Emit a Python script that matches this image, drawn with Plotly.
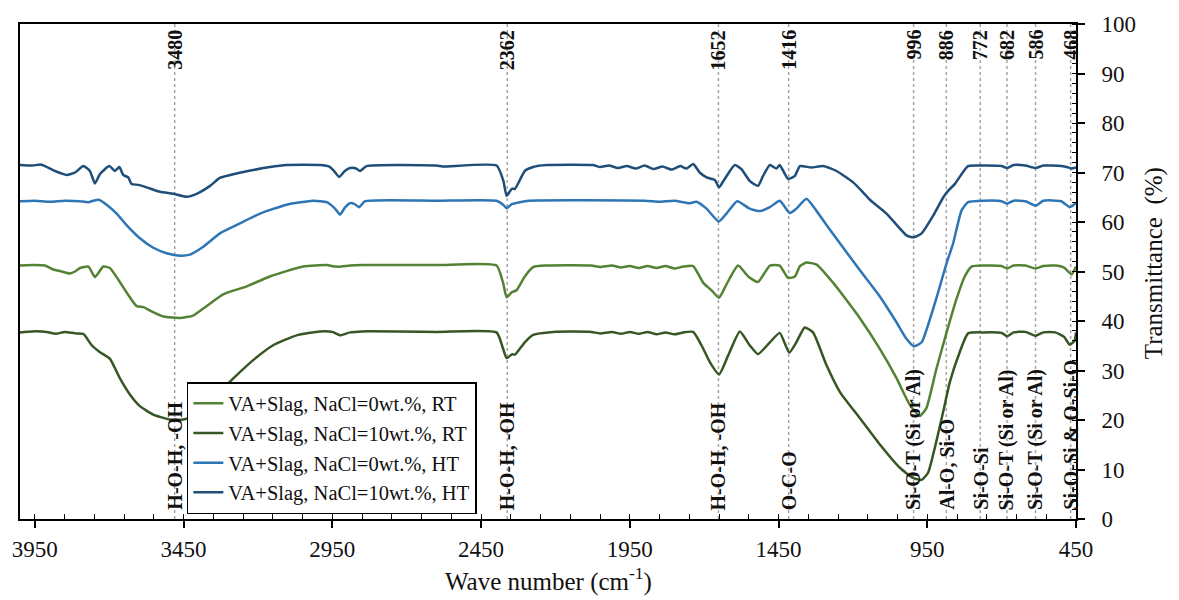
import plotly.graph_objects as go

# FTIR spectra (wave number in cm-1, transmittance in %)
rt_0 = [
    (4000, 51.2), (3950, 51.3), (3916, 51.2), (3888, 50.4), (3860, 50.0), (3832, 49.6),
    (3815, 50.0), (3798, 50.7), (3770, 51.0), (3748, 48.9), (3720, 51.0), (3698, 50.7),
    (3670, 48.4), (3641, 45.7), (3608, 43.0), (3585, 42.8), (3563, 42.1), (3518, 40.9),
    (3462, 40.6), (3418, 41.1), (3373, 43.0), (3317, 45.4), (3238, 47.0), (3160, 49.0),
    (3048, 51.0), (2969, 51.3), (2940, 51.0), (2919, 51.0), (2890, 51.2), (2850, 51.3),
    (2600, 51.3), (2398, 51.2), (2376, 47.7), (2364, 44.8), (2347, 45.8), (2331, 46.2),
    (2303, 49.0), (2275, 50.9), (2230, 51.2), (2080, 51.2), (2050, 50.9), (2010, 51.2),
    (1980, 50.8), (1950, 51.1), (1920, 50.7), (1890, 51.1), (1860, 50.7), (1830, 51.1),
    (1800, 50.6), (1770, 51.0), (1737, 51.1), (1703, 47.7), (1675, 46.2), (1650, 44.7),
    (1625, 47.4), (1586, 51.2), (1552, 49.0), (1519, 47.9), (1479, 51.2), (1446, 51.2),
    (1418, 48.7), (1395, 49.0), (1378, 51.1), (1356, 51.8), (1322, 51.4), (1266, 47.7),
    (1244, 46.0), (1177, 40.6), (1110, 34.4), (1053, 28.4), (1009, 23.1), (975, 20.8),
    (953, 22.4), (919, 30.4), (885, 37.7), (852, 44.4), (824, 49.0), (801, 51.0),
    (760, 51.2), (700, 51.1), (682, 50.6), (660, 51.2), (620, 51.2), (586, 50.6),
    (560, 51.1), (520, 51.2), (490, 50.8), (465, 49.4), (450, 51.0),
]

rt_10 = [
    (4000, 37.7), (3960, 37.9), (3910, 37.8), (3880, 37.4), (3850, 37.8), (3815, 37.5),
    (3787, 37.4), (3759, 35.1), (3731, 33.7), (3698, 32.4), (3664, 28.4), (3630, 25.1),
    (3597, 22.8), (3552, 21.1), (3496, 20.1), (3451, 20.1), (3406, 21.1), (3350, 24.4),
    (3283, 28.4), (3216, 32.1), (3149, 35.1), (3070, 37.1), (2992, 37.9), (2950, 37.8),
    (2924, 37.1), (2891, 37.7), (2850, 37.9), (2600, 37.8), (2398, 37.7), (2376, 34.4),
    (2364, 32.5), (2345, 33.3), (2336, 33.2), (2303, 35.7), (2275, 37.2), (2208, 37.8),
    (2080, 37.8), (2050, 37.5), (2010, 37.8), (1980, 37.4), (1950, 37.8), (1920, 37.4),
    (1890, 37.8), (1860, 37.3), (1830, 37.7), (1800, 37.3), (1770, 37.7), (1737, 37.8),
    (1709, 35.1), (1681, 31.7), (1650, 29.2), (1619, 33.1), (1580, 37.9), (1547, 35.1),
    (1519, 33.3), (1479, 35.7), (1446, 37.6), (1414, 33.6), (1390, 35.7), (1362, 38.7),
    (1334, 37.7), (1289, 31.1), (1244, 25.7), (1177, 20.4), (1110, 15.1), (1043, 10.4),
    (998, 8.3), (969, 7.9), (947, 9.4), (919, 15.8), (896, 21.8), (874, 27.7),
    (841, 33.7), (813, 37.5), (760, 37.7), (700, 37.6), (682, 36.9), (660, 37.7),
    (620, 37.8), (586, 37.0), (560, 37.7), (520, 37.7), (490, 36.8), (471, 35.2),
    (455, 36.0), (450, 37.7),
]

ht_0 = [
    (4000, 64.2), (3950, 64.3), (3900, 64.1), (3850, 64.3), (3800, 64.2), (3770, 64.0),
    (3754, 64.3), (3735, 64.5), (3709, 63.5), (3675, 61.7), (3641, 59.3), (3597, 56.7),
    (3552, 54.8), (3507, 53.7), (3462, 53.2), (3429, 53.4), (3384, 55.0), (3328, 57.7),
    (3261, 59.7), (3193, 61.7), (3104, 63.5), (3014, 64.3), (2969, 64.0), (2941, 62.7),
    (2924, 61.5), (2908, 62.9), (2891, 63.8), (2875, 63.6), (2860, 63.0), (2840, 64.2),
    (2600, 64.3), (2398, 64.3), (2376, 63.5), (2364, 62.8), (2347, 63.6), (2320, 64.0),
    (2290, 64.3), (1900, 64.3), (1850, 64.1), (1800, 64.3), (1748, 63.8), (1726, 64.1),
    (1692, 62.7), (1651, 60.1), (1625, 61.7), (1589, 64.2), (1547, 62.7), (1513, 62.2),
    (1479, 63.0), (1446, 64.3), (1412, 61.8), (1390, 62.7), (1356, 64.7), (1323, 62.3),
    (1290, 59.5), (1250, 56.2), (1177, 50.3), (1110, 45.0), (1053, 39.7), (1020, 36.4),
    (995, 34.9), (969, 35.7), (941, 40.4), (914, 45.7), (885, 51.7), (863, 55.7),
    (835, 62.3), (813, 64.0), (760, 64.3), (700, 64.2), (682, 63.7), (660, 64.3),
    (620, 64.2), (586, 63.3), (560, 64.3), (500, 64.2), (471, 63.0), (455, 63.6),
    (450, 64.0),
]

ht_10 = [
    (4000, 71.5), (3960, 71.4), (3930, 71.6), (3916, 71.3), (3889, 70.5), (3860, 69.8),
    (3843, 69.5), (3815, 70.0), (3787, 71.3), (3765, 70.3), (3748, 67.8), (3731, 69.7),
    (3700, 71.3), (3681, 70.3), (3666, 71.1), (3653, 69.5), (3636, 69.0), (3625, 67.7),
    (3602, 67.5), (3574, 67.0), (3529, 66.1), (3485, 65.7), (3440, 65.1), (3406, 65.7),
    (3361, 67.3), (3328, 68.9), (3272, 69.8), (3216, 70.5), (3160, 71.1), (3104, 71.5),
    (2992, 71.5), (2960, 71.2), (2947, 70.5), (2927, 69.1), (2908, 70.3), (2890, 70.9),
    (2870, 70.8), (2857, 70.3), (2835, 71.3), (2600, 71.4), (2580, 71.2), (2398, 71.4),
    (2375, 68.3), (2364, 65.3), (2347, 66.7), (2336, 66.7), (2303, 70.3), (2275, 71.1),
    (2230, 71.5), (2074, 71.5), (2050, 71.1), (2020, 71.4), (1990, 70.9), (1960, 71.3),
    (1930, 70.8), (1900, 71.4), (1870, 70.7), (1840, 71.2), (1810, 70.6), (1780, 71.3),
    (1760, 70.8), (1737, 71.7), (1715, 70.0), (1692, 69.0), (1664, 68.5), (1650, 67.0),
    (1631, 68.7), (1597, 71.5), (1575, 70.7), (1547, 68.3), (1519, 67.3), (1502, 69.3),
    (1479, 71.5), (1457, 70.8), (1446, 71.5), (1418, 68.7), (1395, 69.3), (1378, 71.3),
    (1340, 71.0), (1300, 71.3), (1255, 70.3), (1199, 68.0), (1166, 66.0), (1143, 64.5),
    (1087, 61.7), (1020, 57.3), (997, 56.9), (969, 57.7), (930, 61.3), (896, 65.0),
    (880, 66.3), (857, 67.7), (813, 71.3), (760, 71.4), (700, 71.3), (682, 70.9),
    (660, 71.5), (620, 71.4), (586, 70.9), (560, 71.4), (500, 71.3), (475, 71.0),
    (465, 70.8), (450, 71.0),
]

series_names = [
    "VA+Slag, NaCl=0wt.%, RT",
    "VA+Slag, NaCl=10wt.%, RT",
    "VA+Slag, NaCl=0wt.%, HT",
    "VA+Slag, NaCl=10wt.%, HT",
]
series_data = [rt_0, rt_10, ht_0, ht_10]
series_colors = ["#548235", "#375623", "#2E75B6", "#1F4E79"]

# Band positions and their assignments
peak_positions = [3480, 2362, 1652, 1416, 996, 886, 772, 682, 586, 468]
peak_assignments = [
    "H-O-H, -OH", "H-O-H, -OH", "H-O-H, -OH", "O-C-O",
    "Si-O-T (Si or Al)", "Al-O, Si-O", "Si-O-Si",
    "Si-O-T (Si or Al)", "Si-O-T (Si or Al)", "Si-O-Si & O-Si-O",
]

x_major_ticks = [3950, 3450, 2950, 2450, 1950, 1450, 950, 450]
y_major_ticks = [0, 10, 20, 30, 40, 50, 60, 70, 80, 90, 100]

FONT = "'Times New Roman', 'Liberation Serif', 'DejaVu Serif', serif"
INK = "#111111"

fig = go.Figure()

for name, data, color in zip(series_names, series_data, series_colors):
    fig.add_trace(go.Scatter(
        x=[p[0] for p in data],
        y=[p[1] for p in data],
        mode="lines",
        name=name,
        line=dict(color=color, width=2.5, shape="spline", smoothing=0.5),
    ))

shapes = []
annotations = []
for wn, label in zip(peak_positions, peak_assignments):
    shapes.append(dict(
        type="line", xref="x", yref="y", x0=wn, x1=wn, y0=0, y1=100,
        line=dict(color="#a6a6a6", width=1.5, dash="dot"), layer="below",
    ))
    annotations.append(dict(
        x=wn, xref="x", y=1, yref="paper", yshift=-4,
        text="<b>%d</b>" % wn, textangle=-90, showarrow=False,
        xanchor="center", yanchor="top",
        font=dict(family=FONT, size=20, color=INK),
    ))
    annotations.append(dict(
        x=wn, xref="x", y=0, yref="paper", yshift=7,
        text="<b>%s</b>" % label, textangle=-90, showarrow=False,
        xanchor="center", yanchor="bottom",
        font=dict(family=FONT, size=20, color=INK),
    ))

annotations.append(dict(
    x=0.5, xref="paper", y=-0.122, yref="paper",
    text="Wave number (cm<sup>-1</sup>)", showarrow=False,
    xanchor="center", yanchor="middle",
    font=dict(family=FONT, size=25, color=INK),
))
annotations.append(dict(
    x=1.074, xref="paper", y=0.517, yref="paper",
    text="Transmittance  (%)", textangle=-90, showarrow=False,
    xanchor="center", yanchor="middle",
    font=dict(family=FONT, size=25, color=INK),
))

axis_font = dict(family=FONT, size=23, color=INK)

fig.update_layout(
    width=1179, height=600,
    margin=dict(l=20, r=103, t=18, b=81),
    paper_bgcolor="white", plot_bgcolor="white",
    font=dict(family=FONT, color=INK),
    showlegend=True,
    legend=dict(
        x=0.158, y=0.01, xanchor="left", yanchor="bottom",
        bgcolor="white", bordercolor="black", borderwidth=1.5,
        font=dict(family=FONT, size=20.5, color=INK),
        tracegroupgap=0,
    ),
    shapes=shapes,
    annotations=annotations,
    xaxis=dict(
        range=[4000, 450], tickmode="array", tickvals=x_major_ticks,
        ticktext=[str(v) for v in x_major_ticks],
        ticks="outside", ticklen=7, tickwidth=1.5, tickcolor="black",
        ticklabelstandoff=1,
        minor=dict(dtick=100, tick0=450, ticks="inside", ticklen=5,
                   tickwidth=1.2, tickcolor="black"),
        showline=True, linecolor="black", linewidth=1.8, mirror=True,
        showgrid=False, zeroline=False, tickfont=axis_font,
    ),
    yaxis=dict(
        range=[0, 100], side="right", tickmode="array", tickvals=y_major_ticks,
        ticks="outside", ticklen=7, tickwidth=1.5, tickcolor="black",
        ticklabelstandoff=12,
        minor=dict(dtick=2, tick0=0, ticks="inside", ticklen=4,
                   tickwidth=1.2, tickcolor="black"),
        showline=True, linecolor="black", linewidth=1.8, mirror=True,
        showgrid=False, zeroline=False, tickfont=axis_font,
    ),
    # inner halves of the major ticks, so they cross the axis lines
    xaxis2=dict(
        range=[4000, 450], overlaying="x", anchor="y", side="bottom",
        tickmode="array", tickvals=x_major_ticks, showticklabels=False,
        ticks="inside", ticklen=6, tickwidth=1.5, tickcolor="black",
        showline=False, showgrid=False, zeroline=False,
    ),
    yaxis2=dict(
        range=[0, 100], overlaying="y", anchor="x", side="right",
        tickmode="array", tickvals=y_major_ticks, showticklabels=False,
        ticks="inside", ticklen=6, tickwidth=1.5, tickcolor="black",
        showline=False, showgrid=False, zeroline=False,
    ),
)

fig.write_html("out.html")
